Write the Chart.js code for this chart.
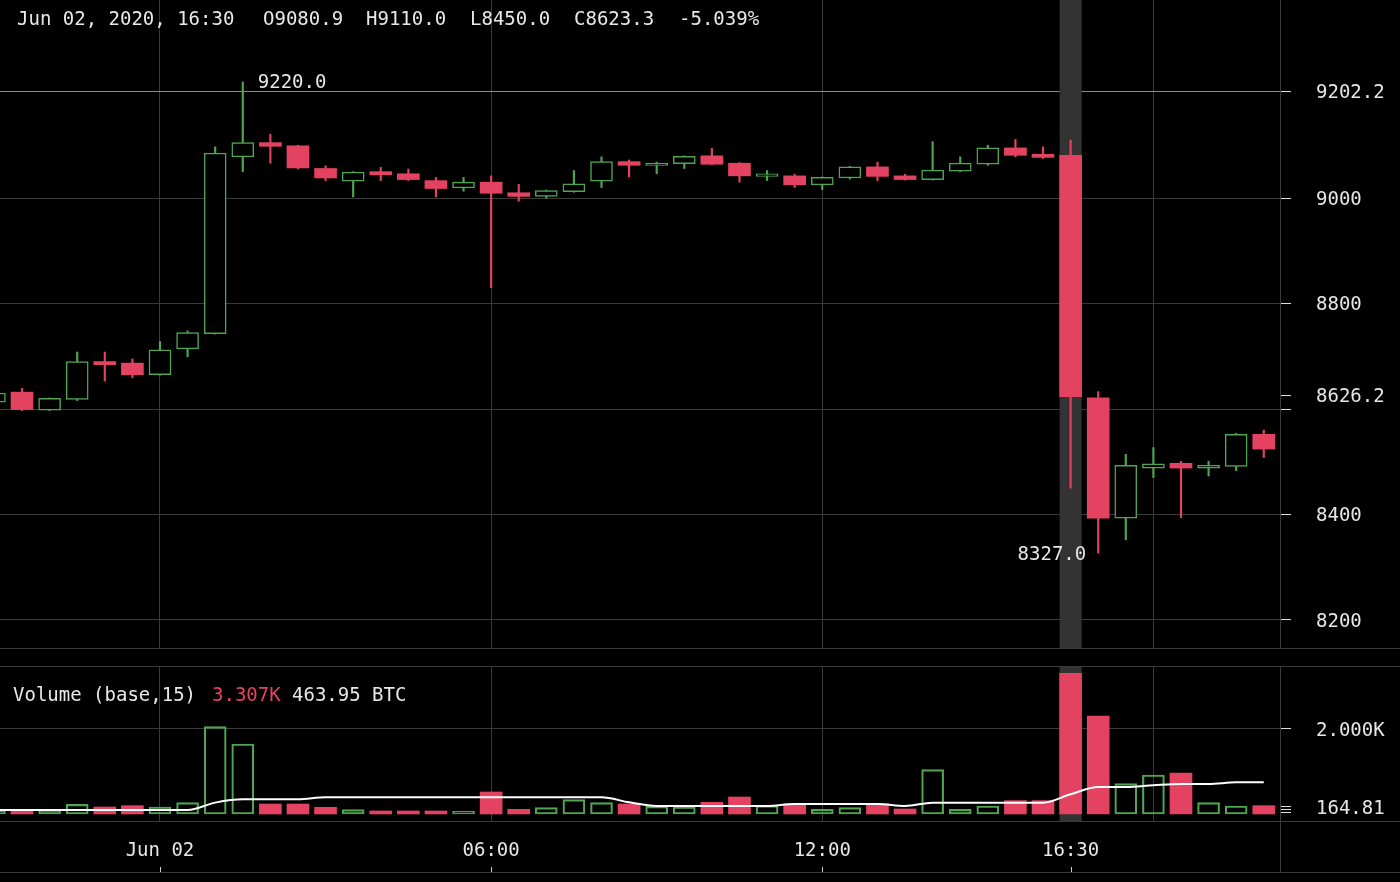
<!DOCTYPE html>
<html>
<head>
<meta charset="utf-8">
<title>BTC 30m</title>
<script src="https://cdn.jsdelivr.net/npm/chart.js@4.4.1/dist/chart.umd.min.js"></script>
<style>
    html, body { margin: 0; padding: 0; background: #000; }
    body { width: 1400px; height: 882px; position: relative; overflow: hidden; font-family: 'DejaVu Sans Mono', monospace; font-size: 19px; color: #e8e8e8; }
    .txt { position: absolute; white-space: pre; line-height: 22px; }
    .hline { position: absolute; left: 0; width: 1400px; height: 1px; background: #3a3a3a; }
    .vline { position: absolute; width: 1px; background: #3a3a3a; }
    #price-wrap { position: absolute; left: 0; top: 0; width: 1400px; height: 648px; }
    #volume-wrap { position: absolute; left: 0; top: 666px; width: 1400px; height: 216px; }
</style>
</head>
<body>
<div id="price-wrap"><canvas id="price"></canvas></div>
<div id="volume-wrap"><canvas id="volume"></canvas></div>

<div class="hline" style="top:648px"></div>
<div class="hline" style="top:666px"></div>
<div class="hline" style="top:821px"></div>
<div class="hline" style="top:872px"></div>
<div class="vline" style="left:1280px; top:821px; height:52px"></div>

<div class="txt" style="left:17px; top:7px">Jun 02, 2020, 16:30</div>
<div class="txt" style="left:263px; top:7px">O9080.9</div>
<div class="txt" style="left:366px; top:7px">H9110.0</div>
<div class="txt" style="left:470px; top:7px">L8450.0</div>
<div class="txt" style="left:574px; top:7px">C8623.3</div>
<div class="txt" style="left:679px; top:7px">-5.039%</div>

<div class="txt" style="left:13px; top:683px">Volume (base,15)</div>
<div class="txt" style="left:212px; top:683px; color:#e34260">3.307K</div>
<div class="txt" style="left:292px; top:683px">463.95 BTC</div>

<script>
// 30 minute candles, hours from Jun 02 00:00
var hours = [-3, -2.5, -2, -1.5, -1, -0.5, 0, 0.5, 1, 1.5, 2, 2.5, 3, 3.5, 4, 4.5, 5, 5.5,
    6, 6.5, 7, 7.5, 8, 8.5, 9, 9.5, 10, 10.5, 11, 11.5, 12, 12.5, 13, 13.5, 14, 14.5, 15, 15.5,
    16, 16.5, 17, 17.5, 18, 18.5, 19, 19.5, 20];
var opens = [8613, 8632, 8598, 8618, 8690, 8687, 8665, 8714, 8743, 9078, 9105, 9099, 9056, 9032,
    9050, 9046, 9033, 9019, 9030, 9010, 9003, 9012, 9032, 9069, 9062, 9065, 9080, 9066, 9041, 9042,
    9025, 9038, 9059, 9042, 9035, 9051, 9064, 9095, 9083, 9080.9, 8621, 8393, 8488, 8497, 8488, 8491, 8552];
var highs = [8632, 8639, 8621, 8708, 8708, 8695, 8728, 8748, 9097, 9220, 9121, 9100, 9061, 9050,
    9058, 9055, 9039, 9039, 9042, 9026, 9015, 9052, 9078, 9072, 9068, 9080, 9094, 9067, 9052, 9045,
    9040, 9060, 9068, 9045, 9107, 9078, 9100, 9111, 9097, 9110, 8633, 8514, 8527, 8501, 8501, 8554, 8560];
var lows = [8610, 8597, 8597, 8616, 8653, 8659, 8664, 8699, 8742, 9050, 9066, 9055, 9033, 9002,
    9033, 9033, 9002, 9013, 8830, 8994, 9000, 9011, 9020, 9040, 9046, 9056, 9063, 9030, 9033, 9020,
    9016, 9036, 9033, 9034, 9034, 9050, 9062, 9078, 9075, 8450, 8327, 8352, 8470, 8394, 8473, 8483, 8508];
var closes = [8630, 8599, 8620, 8690, 8684, 8665, 8712, 8745, 9085, 9105, 9098, 9057, 9038, 9049,
    9044, 9035, 9018, 9030, 9009, 9003, 9014, 9027, 9069, 9062, 9066, 9079, 9064, 9042, 9046, 9025,
    9039, 9059, 9041, 9035, 9053, 9066, 9095, 9081, 9077, 8623.3, 8393, 8493, 8496, 8488, 8493, 8552, 8524];
var volumes = [70, 94, 94, 228, 165, 196, 165, 267, 2055, 1647, 235, 235, 157, 102, 71, 71, 71, 63,
    518, 110, 149, 337, 267, 235, 180, 165, 275, 400, 196, 235, 110, 149, 235, 118, 1043, 110, 188,
    314, 314, 3307, 2306, 714, 918, 965, 267, 188, 196];
var volume_ma = [94, 94, 94, 94, 94, 94, 94, 94, 267, 345, 345, 345, 392, 392, 392, 392, 392, 392,
    392, 392, 392, 392, 392, 274, 188, 188, 188, 188, 188, 235, 235, 235, 235, 188, 267, 267, 267,
    267, 267, 464, 635, 635, 675, 706, 706, 745, 745];

var price_ticks = [8200, 8400, 8600, 8626.2, 8800, 9000, 9202.2];
var volume_ticks = [31, 110, 164.81, 2000];
var grid_hours = [0, 6, 12, 18];
var time_ticks = [0, 6, 12, 16.5, 18];
var time_labels = { 0: 'Jun 02', 6: '06:00', 12: '12:00', 16.5: '16:30' };
var crosshair_hour = 16.5;
var crosshair_price = 9202.2;

var X_MIN = -2.899, X_MAX = 20.294;
var P_MIN = 8146.9, P_MAX = 9375.4;
var V_MIN = -165, V_MAX = 3482;

var GREEN = '#4fa552';
var RED = '#e34260';
var GRID = '#3a3a3a';
var TEXT = '#e6e6e6';
var FONT = { family: "'DejaVu Sans Mono', monospace", size: 19 };

is_up = function (i) {
    return closes[i] >= opens[i];
}

var crosshair_plugin = {
    id: 'crosshair',
    beforeDatasetsDraw: function (chart) {
        var area = chart.chartArea;
        var x = chart.scales.x.getPixelForValue(crosshair_hour);
        var ctx = chart.ctx;
        ctx.save();
        ctx.fillStyle = '#333333';
        ctx.fillRect(x - 11, area.top, 22, area.bottom - area.top);
        ctx.restore();
    }
};

var extremes_plugin = {
    id: 'extremes',
    afterDatasetsDraw: function (chart) {
        var x_scale = chart.scales.x;
        var y_scale = chart.scales.y;
        var hi = highs.indexOf(Math.max.apply(null, highs));
        var lo = lows.indexOf(Math.min.apply(null, lows));
        var ctx = chart.ctx;
        ctx.save();
        ctx.font = FONT.size + 'px ' + FONT.family;
        ctx.fillStyle = TEXT;
        ctx.textBaseline = 'middle';
        ctx.textAlign = 'left';
        ctx.fillText(highs[hi].toFixed(1), x_scale.getPixelForValue(hours[hi]) + 15, y_scale.getPixelForValue(highs[hi]) + 1);
        ctx.textAlign = 'right';
        ctx.fillText(lows[lo].toFixed(1), x_scale.getPixelForValue(hours[lo]) - 12, y_scale.getPixelForValue(lows[lo]) + 2);
        ctx.restore();
    }
};

var bottom_ticks_plugin = {
    id: 'bottom_ticks',
    afterDraw: function (chart) {
        var x_scale = chart.scales.x;
        var ctx = chart.ctx;
        ctx.save();
        ctx.strokeStyle = '#cfcfcf';
        ctx.lineWidth = 1;
        for (var k in time_labels) {
            var x = Math.round(x_scale.getPixelForValue(parseFloat(k))) + 0.5;
            ctx.beginPath();
            ctx.moveTo(x, chart.height - 15);
            ctx.lineTo(x, chart.height - 10);
            ctx.stroke();
        }
        ctx.restore();
    }
};

function no_padding(scale) {
    scale.paddingTop = 0;
    scale.paddingBottom = 0;
    scale.paddingLeft = 0;
    scale.paddingRight = 0;
}

function x_axis(show_labels) {
    return {
        type: 'linear',
        min: X_MIN,
        max: X_MAX,
        offset: false,
        afterBuildTicks: function (scale) {
            var list = show_labels ? time_ticks : grid_hours;
            scale.ticks = list.map(function (v) { return { value: v }; });
        },
        afterFit: function (scale) {
            scale.height = show_labels ? 61 : 0;
            no_padding(scale);
        },
        grid: {
            offset: false,
            drawTicks: false,
            color: function (c) {
                return (c.tick && grid_hours.indexOf(c.tick.value) >= 0) ? GRID : 'rgba(0,0,0,0)';
            }
        },
        border: { display: false },
        ticks: {
            display: show_labels,
            autoSkip: false,
            maxRotation: 0,
            padding: 19,
            color: TEXT,
            font: FONT,
            callback: function (v) { return time_labels[v] || ''; }
        }
    };
}

function y_axis(min, max, tick_list, line_color, label_fn) {
    return {
        position: 'right',
        min: min,
        max: max,
        afterBuildTicks: function (scale) {
            scale.ticks = tick_list.map(function (v) { return { value: v }; });
        },
        afterFit: function (scale) {
            scale.width = 120;
            no_padding(scale);
        },
        grid: {
            color: line_color,
            tickLength: 11,
            tickColor: '#dcdcdc'
        },
        border: { color: GRID },
        ticks: {
            autoSkip: false,
            padding: 25,
            labelOffset: 2,
            color: TEXT,
            font: FONT,
            callback: label_fn
        }
    };
}

var base_options = {
    responsive: true,
    maintainAspectRatio: false,
    animation: false,
    layout: { padding: 0 },
    plugins: { legend: { display: false }, tooltip: { enabled: false } }
};

var price_chart = new Chart(document.getElementById('price'), {
    type: 'bar',
    data: {
        datasets: [
            {
                label: 'body',
                data: hours.map(function (h, i) { return { x: h, y: [opens[i], closes[i]] }; }),
                grouped: false,
                order: 0,
                barThickness: 22,
                minBarLength: 2,
                borderSkipped: false,
                backgroundColor: function (c) { return is_up(c.dataIndex) ? '#000' : RED; },
                borderColor: function (c) { return is_up(c.dataIndex) ? GREEN : RED; },
                borderWidth: function (c) { return is_up(c.dataIndex) ? 1.5 : 0; }
            },
            {
                label: 'wick',
                data: hours.map(function (h, i) { return { x: h, y: [lows[i], highs[i]] }; }),
                grouped: false,
                order: 1,
                barThickness: 1.5,
                borderWidth: 0,
                backgroundColor: function (c) { return is_up(c.dataIndex) ? GREEN : RED; }
            }
        ]
    },
    options: Object.assign({}, base_options, {
        scales: {
            x: x_axis(false),
            y: y_axis(P_MIN, P_MAX, price_ticks, function (c) {
                if (!c.tick) return GRID;
                if (c.tick.value === crosshair_price) return '#8c8c8c';
                if (c.tick.value === 8626.2) return 'rgba(0,0,0,0)';
                return GRID;
            }, function (v) {
                if (v === 8600) return '';
                return v % 1 === 0 ? String(v) : v.toFixed(1);
            })
        }
    }),
    plugins: [crosshair_plugin, extremes_plugin]
});

var volume_chart = new Chart(document.getElementById('volume'), {
    type: 'bar',
    data: {
        datasets: [
            {
                type: 'line',
                label: 'MA',
                data: hours.map(function (h, i) { return { x: h, y: volume_ma[i] }; }),
                order: 0,
                borderColor: '#ffffff',
                borderWidth: 2,
                pointRadius: 0,
                cubicInterpolationMode: 'monotone'
            },
            {
                label: 'Volume',
                data: hours.map(function (h, i) { return { x: h, y: volumes[i] }; }),
                grouped: false,
                order: 1,
                barThickness: 22,
                borderSkipped: false,
                backgroundColor: function (c) { return is_up(c.dataIndex) ? 'rgba(0,0,0,0)' : RED; },
                borderColor: function (c) { return is_up(c.dataIndex) ? GREEN : RED; },
                borderWidth: function (c) { return is_up(c.dataIndex) ? 1.5 : 0; }
            }
        ]
    },
    options: Object.assign({}, base_options, {
        scales: {
            x: x_axis(true),
            y: y_axis(V_MIN, V_MAX, volume_ticks, function (c) {
                return (c.tick && c.tick.value === 2000) ? GRID : 'rgba(0,0,0,0)';
            }, function (v) {
                if (v === 2000) return '2.000K';
                if (v === 164.81) return '164.81';
                return '';
            })
        }
    }),
    plugins: [crosshair_plugin, bottom_ticks_plugin]
});
</script>
</body>
</html>
